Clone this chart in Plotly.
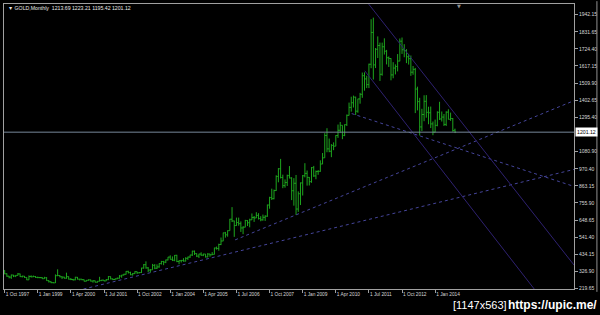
import plotly.graph_objects as go

# ---------------- data (monthly GOLD bars, Oct 1997 .. Oct 2014) ----------------
opens = [
    332, 311, 296,
    290, 303, 297, 301, 310, 293, 296, 288, 273, 294, 292, 294,
    288, 287, 287, 280, 286, 268, 261, 255, 254, 299, 300, 292,
    290, 283, 293, 277, 275, 273, 289, 277, 277, 274, 264, 270,
    273, 265, 267, 258, 264, 268, 271, 266, 274, 293, 279, 275,
    279, 283, 297, 303, 308, 326, 318, 305, 312, 324, 317, 319,
    347, 368, 348, 334, 336, 364, 346, 354, 375, 388, 384, 398,
    416, 402, 396, 427, 388, 393, 395, 391, 408, 416, 429, 453,
    438, 422, 435, 428, 435, 417, 435, 430, 433, 473, 470, 495,
    517, 568, 556, 582, 654, 643, 614, 633, 626, 599, 604, 646,
    632, 650, 665, 662, 678, 658, 650, 666, 673, 743, 790, 783,
    834, 923, 971, 916, 865, 885, 928, 913, 833, 880, 718, 814,
    882, 927, 942, 917, 890, 978, 926, 954, 955, 1001, 1040, 1180,
    1096, 1081, 1118, 1113, 1180, 1213, 1244, 1181, 1248, 1307, 1357, 1386,
    1421, 1333, 1410, 1439, 1556, 1536, 1500, 1628, 1828, 1624, 1722, 1746,
    1565, 1738, 1710, 1669, 1664, 1561, 1604, 1614, 1648, 1773, 1719, 1714,
    1675, 1663, 1578, 1596, 1472, 1393, 1234, 1312, 1395, 1326, 1323, 1253,
    1201, 1244, 1326, 1284, 1296, 1250, 1327, 1282, 1287, 1213.69,
]
highs = [
    333, 314, 298,
    306, 304, 302, 316, 312, 299, 297, 289, 301, 301, 300, 297,
    293, 291, 290, 292, 290, 271, 264, 259, 307, 339, 303, 294,
    292, 318, 294, 284, 279, 292, 291, 279, 278, 275, 272, 276,
    274, 269, 268, 265, 292, 274, 272, 278, 297, 294, 281, 281,
    287, 303, 304, 311, 328, 330, 324, 316, 327, 325, 322, 349,
    372, 389, 353, 341, 373, 372, 370, 377, 392, 392, 400, 417,
    427, 420, 429, 430, 396, 398, 409, 415, 419, 430, 456, 457,
    439, 437, 446, 437, 435, 441, 437, 447, 475, 482, 500, 539,
    570, 574, 584, 656, 730, 645, 664, 664, 640, 610, 650, 648,
    657, 690, 674, 698, 692, 673, 683, 679, 746, 795, 846, 840,
    930, 975, 1033, 934, 904, 934, 988, 918, 912, 932, 829, 885,
    932, 1006, 960, 919, 982, 989, 960, 963, 1024, 1070, 1195, 1226,
    1161, 1126, 1137, 1182, 1249, 1265, 1244, 1250, 1312, 1387, 1424, 1431,
    1424, 1411, 1448, 1576, 1577, 1556, 1632, 1911, 1921, 1730, 1803, 1764,
    1764, 1791, 1718, 1677, 1666, 1641, 1627, 1692, 1790, 1796, 1754, 1723,
    1694, 1683, 1617, 1605, 1487, 1417, 1348, 1433, 1434, 1361, 1362, 1268,
    1280, 1332, 1392, 1331, 1315, 1332, 1345, 1324, 1290, 1223.21,
]
lows = [
    308, 292, 282,
    279, 290, 290, 300, 291, 288, 285, 271, 273, 288, 290, 285,
    283, 283, 278, 279, 267, 256, 252, 252, 253, 296, 289, 278,
    281, 280, 275, 271, 268, 270, 275, 269, 270, 263, 263, 268,
    262, 255, 256, 255, 263, 265, 264, 265, 271, 276, 271, 271,
    277, 281, 286, 300, 306, 313, 302, 299, 310, 310, 314, 316,
    343, 343, 321, 319, 336, 340, 341, 349, 369, 365, 378, 395,
    401, 391, 390, 384, 371, 382, 387, 388, 398, 411, 423, 429,
    416, 410, 424, 422, 413, 414, 418, 428, 432, 463, 456, 491,
    516, 538, 544, 582, 636, 543, 612, 613, 574, 560, 603, 611,
    603, 650, 637, 661, 652, 641, 645, 643, 669, 720, 775, 779,
    832, 886, 910, 849, 852, 863, 911, 774, 739, 681, 700, 743,
    803, 917, 865, 866, 883, 920, 905, 933, 952, 1000, 1040, 1075,
    1075, 1044, 1088, 1113, 1165, 1198, 1157, 1176, 1240, 1306, 1330, 1356,
    1309, 1323, 1380, 1417, 1462, 1478, 1478, 1603, 1532, 1604, 1667, 1523,
    1556, 1689, 1627, 1611, 1527, 1540, 1564, 1583, 1647, 1693, 1672, 1635,
    1626, 1555, 1562, 1321, 1338, 1180, 1208, 1270, 1292, 1251, 1227, 1182,
    1200, 1238, 1278, 1268, 1240, 1240, 1281, 1272, 1204, 1195.42,
]
closes = [
    311, 296, 290,
    303, 297, 301, 310, 293, 296, 288, 273, 294, 292, 294, 288,
    287, 287, 280, 286, 268, 261, 255, 254, 299, 300, 292, 290,
    283, 293, 277, 275, 273, 289, 277, 277, 274, 264, 270, 273,
    265, 267, 258, 264, 268, 271, 266, 274, 293, 279, 275, 279,
    283, 297, 303, 308, 326, 318, 305, 312, 324, 317, 319, 347,
    368, 348, 334, 336, 364, 346, 354, 375, 388, 384, 398, 416,
    402, 396, 427, 388, 393, 395, 391, 408, 416, 429, 453, 438,
    422, 435, 428, 435, 417, 435, 430, 433, 473, 470, 495, 517,
    568, 556, 582, 654, 643, 614, 633, 626, 599, 604, 646, 632,
    650, 665, 662, 678, 658, 650, 666, 673, 743, 790, 783, 834,
    923, 971, 916, 865, 885, 928, 913, 833, 880, 718, 814, 882,
    927, 942, 917, 890, 978, 926, 954, 955, 1001, 1040, 1180, 1096,
    1081, 1118, 1113, 1180, 1213, 1244, 1181, 1248, 1307, 1357, 1386, 1421,
    1333, 1410, 1439, 1556, 1536, 1500, 1628, 1828, 1624, 1722, 1746, 1565,
    1738, 1710, 1669, 1664, 1561, 1604, 1614, 1648, 1773, 1719, 1714, 1675,
    1663, 1578, 1596, 1472, 1393, 1234, 1312, 1395, 1326, 1323, 1253, 1201,
    1244, 1326, 1284, 1296, 1250, 1327, 1282, 1287, 1211, 1201.12,
]

x_tick_bars = [0, 15, 30, 45, 60, 75, 90, 105, 120, 135, 150, 165, 180, 195]
x_tick_labels = ["1 Oct 1997", "1 Jan 1999", "1 Apr 2000", "1 Jul 2001", "1 Oct 2002",
                 "1 Jan 2004", "1 Apr 2005", "1 Jul 2006", "1 Oct 2007", "1 Jan 2009",
                 "1 Apr 2010", "1 Jul 2011", "1 Oct 2012", "1 Jan 2014"]
y_tick_values = [1942.15, 1831.65, 1724.40, 1617.15, 1509.90, 1402.65, 1295.40,
                 1080.90, 970.40, 863.15, 755.90, 648.65, 541.40, 434.15, 326.90, 219.65]
y_tick_labels = ["1942.15", "1831.65", "1724.40", "1617.15", "1509.90", "1402.65", "1295.40",
                 "1080.90", "970.40", "863.15", "755.90", "648.65", "541.40", "434.15",
                 "326.90", "219.65"]

current_price = 1201.12
title_text = "▼ GOLD,Monthly  1213.69 1223.21 1195.42 1201.12"

# trend lines drawn on the chart: (bar0, price0, bar1, price1)
dotted_lines = [
    (35.7, 215.0, 257.9, 967.0),
    (104.4, 524.0, 257.9, 1399.0),
    (157.2, 1318.0, 257.9, 860.0),
]
solid_lines = [
    (164.9, 2006.0, 257.9, 366.0),
    (163.1, 1587.0, 239.9, 215.0),
]

x_range = [-0.3, 257.9]
y_range = [215.3, 2006.7]

# ---------------- figure ----------------
bars = list(range(len(closes)))
green = "#1ea51e"
fig = go.Figure(go.Ohlc(
    x=bars, open=opens, high=highs, low=lows, close=closes,
    increasing=dict(line=dict(color=green, width=1)),
    decreasing=dict(line=dict(color=green, width=1)),
    tickwidth=0.5, hoverinfo="skip",
))

shapes = []
for x0, y0, x1, y1 in dotted_lines:
    shapes.append(dict(type="line", xref="x", yref="y", x0=x0, y0=y0, x1=x1, y1=y1,
                       line=dict(color="#45459a", width=1, dash="dot")))
for x0, y0, x1, y1 in solid_lines:
    shapes.append(dict(type="line", xref="x", yref="y", x0=x0, y0=y0, x1=x1, y1=y1,
                       line=dict(color="#2e2170", width=1)))
shapes.append(dict(type="line", xref="paper", yref="y", x0=0, x1=1,
                   y0=current_price, y1=current_price,
                   line=dict(color="#778899", width=1)))
shapes.append(dict(type="line", xref="paper", yref="paper", x0=1.0402, x1=1.0402,
                   y0=-0.01, y1=1.01, line=dict(color="#909090", width=1)))

ann = [
    dict(text=title_text, xref="paper", yref="paper", x=0.003, y=0.986,
         xanchor="left", yanchor="middle", showarrow=False,
         font=dict(family="Liberation Sans", size=5.2, color="#e8e8e8")),
    dict(text=f"{current_price:.2f}", xref="paper", yref="y", x=1, y=current_price,
         xanchor="left", yanchor="middle", xshift=1, showarrow=False,
         bgcolor="#ffffff", borderpad=1,
         font=dict(family="Liberation Sans", size=5.2, color="#000000")),
    dict(text="▼", xref="paper", yref="paper", x=0.799, y=1.012,
         xanchor="center", yanchor="top", showarrow=False,
         font=dict(family="DejaVu Sans", size=5, color="#909090")),
    dict(text="[1147x563]", xref="paper", yref="paper", x=0.785, y=-0.056,
         xanchor="left", yanchor="middle", showarrow=False,
         font=dict(family="Liberation Sans", size=11, color="#ffffff")),
    dict(text="<b>https://upic.me/</b>", xref="paper", yref="paper", x=0.881, y=-0.056,
         xanchor="left", yanchor="middle", showarrow=False,
         font=dict(family="Liberation Sans", size=12, color="#ffffff")),
]

fig.update_layout(
    width=600, height=315,
    margin=dict(l=3, r=25, t=3, b=26, pad=0),
    paper_bgcolor="#000000", plot_bgcolor="#000000",
    showlegend=False, shapes=shapes, annotations=ann,
    xaxis=dict(range=x_range, rangeslider=dict(visible=False), showgrid=False,
               zeroline=False, showline=True, mirror=True, linecolor="#a0a0a0",
               linewidth=1, ticks="outside", ticklen=3, tickcolor="#a0a0a0",
               tickvals=x_tick_bars, ticktext=x_tick_labels,
               ticklabelposition="outside right",
               tickfont=dict(family="Liberation Sans", size=4.8, color="#d8d8d8")),
    yaxis=dict(range=y_range, side="right", showgrid=False, zeroline=False,
               showline=True, mirror=True, linecolor="#a0a0a0", linewidth=1,
               ticks="outside", ticklen=3, tickcolor="#a0a0a0",
               tickvals=y_tick_values, ticktext=y_tick_labels,
               tickfont=dict(family="Liberation Sans", size=5, color="#d8d8d8")),
)

fig.write_html("out.html")
